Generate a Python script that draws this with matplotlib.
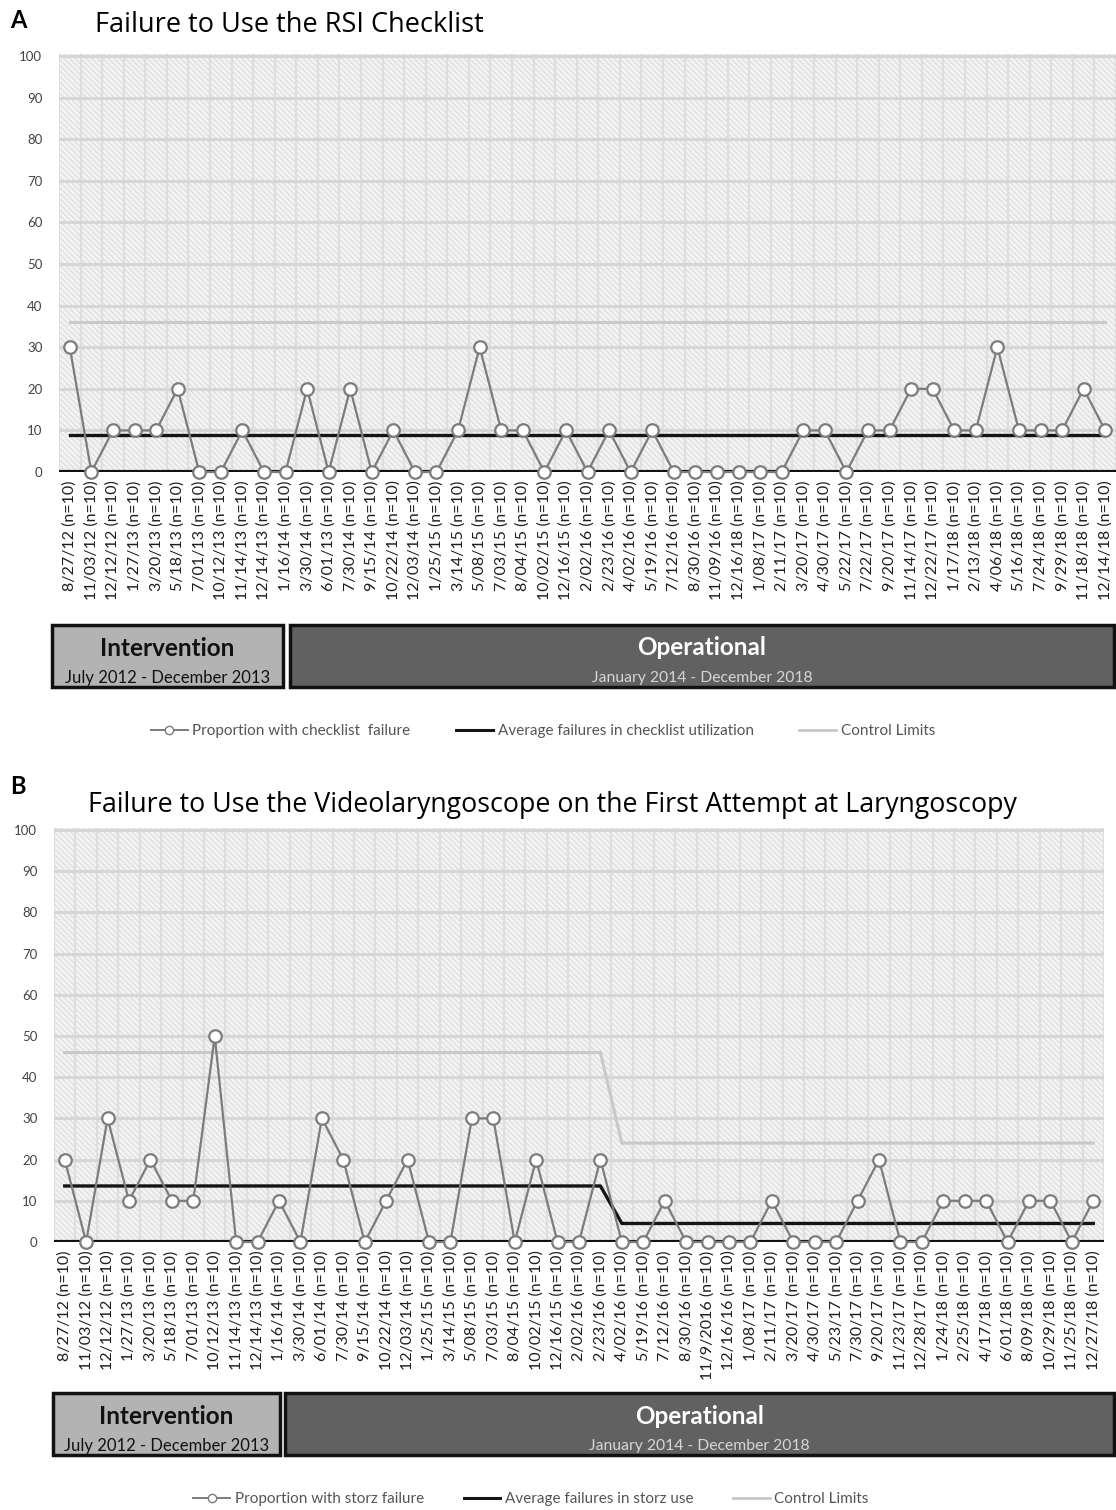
import numpy as np
import matplotlib.pyplot as plt
from matplotlib.patches import Rectangle
from matplotlib.lines import Line2D

plt.rcParams['font.family'] = ['Lato', 'DejaVu Sans']
plt.rcParams['hatch.linewidth'] = 0.6

# --- DADOS ---
datas_a = ['8/27/12', '11/03/12', '12/12/12', '1/27/13', '3/20/13', '5/18/13', '7/01/13',
           '10/12/13', '11/14/13', '12/14/13', '1/16/14', '3/30/14', '6/01/13', '7/30/14',
           '9/15/14', '10/22/14', '12/03/14', '1/25/15', '3/14/15', '5/08/15', '7/03/15',
           '8/04/15', '10/02/15', '12/16/15', '2/02/16', '2/23/16', '4/02/16', '5/19/16',
           '7/12/16', '8/30/16', '11/09/16', '12/16/18', '1/08/17', '2/11/17', '3/20/17',
           '4/30/17', '5/22/17', '7/22/17', '9/20/17', '11/14/17', '12/22/17', '1/17/18',
           '2/13/18', '4/06/18', '5/16/18', '7/24/18', '9/29/18', '11/18/18', '12/14/18']
falhas_a = [30, 0, 10, 10, 10, 20, 0, 0, 10, 0, 0, 20, 0, 20, 0, 10, 0, 0, 10, 30,
            10, 10, 0, 10, 0, 10, 0, 10, 0, 0, 0, 0, 0, 0, 10, 10, 0, 10, 10, 20,
            20, 10, 10, 30, 10, 10, 10, 20, 10]
media_a = [9.0] * 49
limite_a = [36.0] * 49

datas_b = ['8/27/12', '11/03/12', '12/12/12', '1/27/13', '3/20/13', '5/18/13', '7/01/13',
           '10/12/13', '11/14/13', '12/14/13', '1/16/14', '3/30/14', '6/01/14', '7/30/14',
           '9/15/14', '10/22/14', '12/03/14', '1/25/15', '3/14/15', '5/08/15', '7/03/15',
           '8/04/15', '10/02/15', '12/16/15', '2/02/16', '2/23/16', '4/02/16', '5/19/16',
           '7/12/16', '8/30/16', '11/9/2016', '12/16/16', '1/08/17', '2/11/17', '3/20/17',
           '4/30/17', '5/23/17', '7/30/17', '9/20/17', '11/23/17', '12/28/17', '1/24/18',
           '2/25/18', '4/17/18', '6/01/18', '8/09/18', '10/29/18', '11/25/18', '12/27/18']
falhas_b = [20, 0, 30, 10, 20, 10, 10, 50, 0, 0, 10, 0, 30, 20, 0, 10, 20, 0, 0, 30,
            30, 0, 20, 0, 0, 20, 0, 0, 10, 0, 0, 0, 0, 10, 0, 0, 0, 10, 20, 0,
            0, 10, 10, 10, 0, 10, 10, 0, 10]
media_b = [13.6] * 26 + [4.5] * 23
limite_b = [46.0] * 26 + [24.0] * 23

W, H = 1116, 1510
fig = plt.figure(figsize=(W / 100, H / 100), dpi=100)


def fr(x0, y0, x1, y1):
    # pixels -> fração da figura (left, bottom, width, height)
    return [x0 / W, 1 - y1 / H, (x1 - x0) / W, (y1 - y0) / H]


def painel(caixa, datas, falhas, media, limite):
    ax = fig.add_axes(caixa)
    n = len(datas)
    x = np.arange(n)
    ax.set_xlim(-0.5, n - 0.5)
    ax.set_ylim(0, 100.5)
    ax.set_facecolor('#f3f3f3')
    ax.add_patch(Rectangle((0, 0), 1, 1, transform=ax.transAxes, facecolor='none',
                           edgecolor='#d6d6d6', hatch='\\\\\\\\\\\\', linewidth=0, zorder=0))
    ax.set_xticks(x)
    ax.set_xticks(np.arange(n + 1) - 0.5, minor=True)
    ax.set_xticklabels([d + ' (n=10)' for d in datas], rotation=90, fontsize=11.5,
                       color='#1e1e1e')
    ax.set_yticks(np.arange(0, 101, 10))
    ax.tick_params(axis='y', labelsize=9.5, colors='#444444', length=0, pad=12)
    ax.tick_params(axis='x', which='both', length=0, pad=6)
    ax.grid(True, which='minor', axis='x', color='#dedede', linewidth=1.6, zorder=1)
    ax.grid(True, which='major', axis='y', color='#d6d6d6', linewidth=2.2, zorder=1)
    ax.set_axisbelow(True)
    for s in ax.spines.values():
        s.set_visible(False)
    ax.axhline(0, color='#111111', linewidth=3, zorder=3)
    ax.plot(x, limite, color='#c9c9c9', linewidth=2.2, zorder=2)
    ax.plot(x, media, color='#151515', linewidth=2.4, zorder=3)
    ax.plot(x, falhas, color='#7c7c7c', linewidth=1.6, marker='o', markersize=9,
            markerfacecolor='white', markeredgecolor='#7c7c7c', markeredgewidth=1.6,
            zorder=4, clip_on=False)
    return ax


def faixas(y0, y1, xi0, xi1, xo0, xo1):
    fig.add_artist(Rectangle((xi0 / W, 1 - y1 / H), (xi1 - xi0) / W, (y1 - y0) / H,
                             transform=fig.transFigure, facecolor='#b3b3b3',
                             edgecolor='#111111', linewidth=2.5))
    fig.add_artist(Rectangle((xo0 / W, 1 - y1 / H), (xo1 - xo0) / W, (y1 - y0) / H,
                             transform=fig.transFigure, facecolor='#616161',
                             edgecolor='#111111', linewidth=2.5))
    cx = (xi0 + xi1) / 2 / W
    fig.text(cx, 1 - (y0 + 24) / H, 'Intervention', ha='center', va='center',
             fontsize=17.5, fontweight='bold', color='#111111')
    fig.text(cx, 1 - (y0 + 53) / H, 'July 2012 - December 2013', ha='center', va='center',
             fontsize=12, color='#111111')
    cx = (xo0 + xo1) / 2 / W
    fig.text(cx, 1 - (y0 + 23) / H, 'Operational', ha='center', va='center',
             fontsize=17.5, fontweight='bold', color='white')
    fig.text(cx, 1 - (y0 + 53) / H, 'January 2014 - December 2018', ha='center',
             va='center', fontsize=11.3, color='#d6d6d6')


def legenda(y, textos, xc, espaco):
    alcas = [Line2D([], [], color='#7c7c7c', linewidth=1.4, marker='o', markersize=6,
                    markerfacecolor='white', markeredgecolor='#7c7c7c'),
             Line2D([], [], color='#151515', linewidth=2.2),
             Line2D([], [], color='#c9c9c9', linewidth=2.0)]
    fig.legend(alcas, textos, loc='center', bbox_to_anchor=(xc / W, 1 - y / H), ncol=3,
               frameon=False, fontsize=11, labelcolor='#555555', columnspacing=espaco,
               handlelength=2.4, handletextpad=0.3)


# --- PAINEL A ---
painel(fr(59, 54, 1116, 472), datas_a, falhas_a, media_a, limite_a)
fig.text(10 / W, 1 - 21 / H, 'A', fontsize=17, fontweight='bold', va='center')
fig.text(95 / W, 1 - 25 / H, 'Failure to Use the RSI Checklist', fontsize=19.5,
         va='center', family=['Open Sans', 'DejaVu Sans'])
faixas(625, 687, 52, 283, 290, 1114)
legenda(731, ['Proportion with checklist  failure', 'Average failures in checklist utilization',
              'Control Limits'], 543, 3.0)

# --- PAINEL B ---
painel(fr(54, 828, 1104, 1242), datas_b, falhas_b, media_b, limite_b)
fig.text(10 / W, 1 - 786 / H, 'B', fontsize=17, fontweight='bold', va='center')
fig.text(88 / W, 1 - 805 / H,
         'Failure to Use the Videolaryngoscope on the First Attempt at Laryngoscopy',
         fontsize=19.3, va='center', family=['Open Sans', 'DejaVu Sans'])
faixas(1393, 1455, 53, 280, 285, 1114)
legenda(1499, ['Proportion with storz failure', 'Average failures in storz use',
               'Control Limits'], 531, 2.6)

plt.savefig('out.png', dpi=100)
